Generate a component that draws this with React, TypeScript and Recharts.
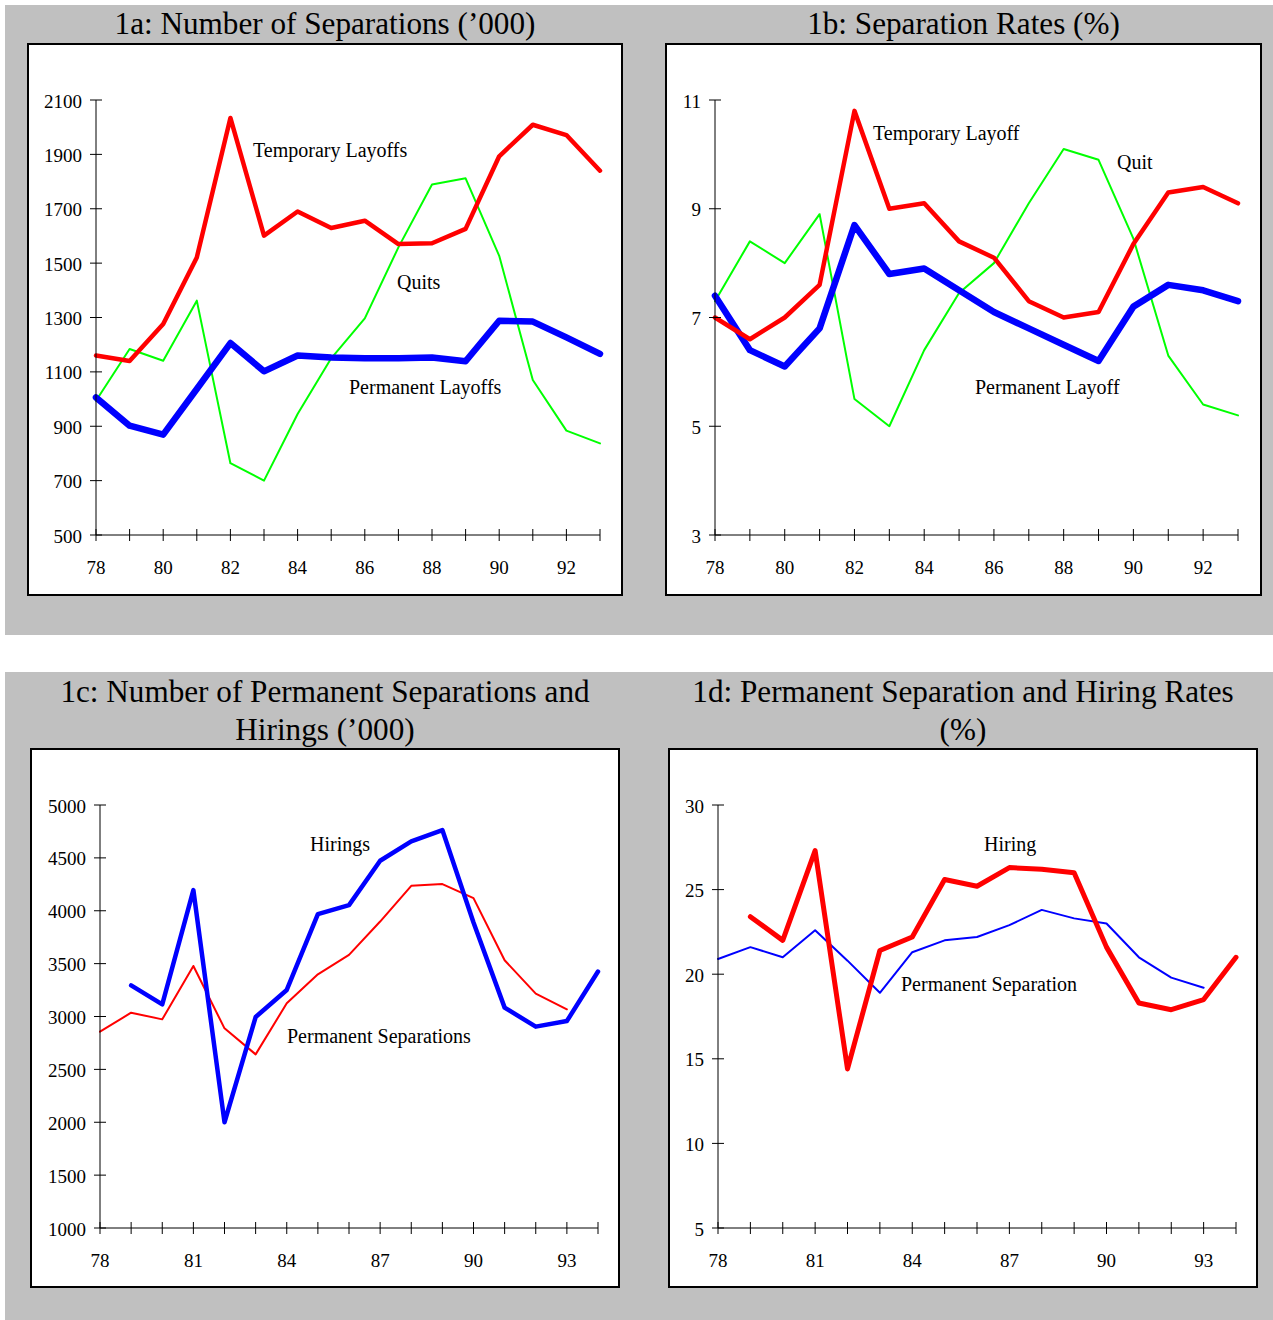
import React from 'react';
import { LineChart, Line, XAxis, YAxis } from 'recharts';

// ---------- data ----------
const yearsAB = [78, 79, 80, 81, 82, 83, 84, 85, 86, 87, 88, 89, 90, 91, 92, 93];
const yearsCD = [78, 79, 80, 81, 82, 83, 84, 85, 86, 87, 88, 89, 90, 91, 92, 93, 94];

// 1a: Number of separations ('000)
const temporaryLayoffs = [1160, 1140, 1276, 1521, 2034, 1601, 1690, 1629, 1656, 1570, 1573, 1626, 1893, 2009, 1971, 1840];
const quits = [994, 1184, 1141, 1362, 764, 700, 945, 1150, 1297, 1558, 1789, 1812, 1527, 1070, 884, 837];
const permanentLayoffs = [1006, 902, 869, 1037, 1206, 1102, 1160, 1153, 1150, 1150, 1153, 1139, 1288, 1285, 1227, 1166];

// 1b: Separation rates (%)
const temporaryLayoffRate = [7.0, 6.6, 7.0, 7.6, 10.8, 9.0, 9.1, 8.4, 8.1, 7.3, 7.0, 7.1, 8.35, 9.3, 9.4, 9.1];
const quitRate = [7.3, 8.4, 8.0, 8.9, 5.5, 5.0, 6.4, 7.45, 8.0, 9.1, 10.1, 9.9, 8.45, 6.3, 5.4, 5.2];
const permanentLayoffRate = [7.4, 6.4, 6.1, 6.8, 8.7, 7.8, 7.9, 7.5, 7.1, 6.8, 6.5, 6.2, 7.2, 7.6, 7.5, 7.3];

// 1c: Number of permanent separations and hirings ('000)
const hirings = [null, 3295, 3115, 4195, 2000, 2995, 3251, 3968, 4053, 4473, 4656, 4763, 3889, 3084, 2904, 2957, 3425];
const permanentSeparations = [2856, 3036, 2973, 3478, 2888, 2642, 3125, 3399, 3583, 3898, 4236, 4252, 4119, 3532, 3216, 3068, null];

// 1d: Permanent separation and hiring rates (%)
const hiringRate = [null, 23.4, 22.0, 27.3, 14.4, 21.4, 22.2, 25.6, 25.2, 26.3, 26.2, 26.0, 21.6, 18.3, 17.9, 18.5, 21.0];
const permanentSeparationRate = [20.9, 21.6, 21.0, 22.6, 20.8, 18.9, 21.3, 22.0, 22.2, 22.9, 23.8, 23.3, 23.0, 21.0, 19.8, 19.2, null];

// tick labels
const yTicksA = [500, 700, 900, 1100, 1300, 1500, 1700, 1900, 2100];
const yTicksB = [3, 5, 7, 9, 11];
const yTicksC = [1000, 1500, 2000, 2500, 3000, 3500, 4000, 4500, 5000];
const yTicksD = [5, 10, 15, 20, 25, 30];
const xLabelsAB = [78, 80, 82, 84, 86, 88, 90, 92];
const xLabelsCD = [78, 81, 84, 87, 90, 93];

// ---------- styling ----------
const SERIF = "'Liberation Serif', 'Times New Roman', Times, serif";
const RED = '#ff0000';
const BLUE = '#0000ff';
const GREEN = '#00ff00';
const GRAY = '#c0c0c0';
const Y_AXIS_W = 40;

const makeRows = (years: number[], series: Record<string, (number | null)[]>) =>
  years.map((yr, i) => {
    const row: Record<string, number | null> = { year: yr };
    Object.keys(series).forEach((k) => {
      row[k] = series[k][i];
    });
    return row;
  });

const XTick = (props: any) => {
  const { x, y, payload, labels } = props;
  const v = payload.value;
  return (
    <g>
      <line x1={x} x2={x} y1={y - 6} y2={y + 6} stroke="#000" strokeWidth={1} />
      {labels.includes(v) ? (
        <text x={x} y={y + 39} textAnchor="middle" fontFamily={SERIF} fontSize={19} fill="#000">
          {v}
        </text>
      ) : null}
    </g>
  );
};

const YTick = (props: any) => {
  const { x, y, payload } = props;
  return (
    <g>
      <line x1={x - 6} x2={x + 6} y1={y} y2={y} stroke="#000" strokeWidth={1} />
      <text x={x - 14} y={y + 7.5} textAnchor="end" fontFamily={SERIF} fontSize={19} fill="#000">
        {payload.value}
      </text>
    </g>
  );
};

type LineSpec = { key: string; color: string; width: number };
type Note = { text: string; x: number; y: number };
type PanelSpec = {
  box: { left: number; top: number; w: number; h: number };
  plot: { left: number; right: number; top: number; bottom: number };
  titleLines: string[];
  titleTop: number;
  titleLineHeight: number;
  data: Record<string, number | null>[];
  xDomain: [number, number];
  xTicks: number[];
  xLabels: number[];
  yDomain: [number, number];
  yTicks: number[];
  lines: LineSpec[];
  notes: Note[];
};

const Panel = ({ spec }: { spec: PanelSpec }) => {
  const { box, plot } = spec;
  const margin = {
    left: plot.left - box.left - Y_AXIS_W,
    right: box.left + box.w - plot.right,
    top: plot.top - box.top,
    bottom: box.top + box.h - plot.bottom - 30,
  };
  return (
    <>
      <div
        style={{
          position: 'absolute',
          left: box.left,
          top: spec.titleTop,
          width: box.w,
          textAlign: 'center',
          fontFamily: SERIF,
          fontSize: 31.2,
          lineHeight: `${spec.titleLineHeight}px`,
          color: '#000',
          whiteSpace: 'nowrap',
        }}
      >
        {spec.titleLines.map((t, i) => (
          <div key={i}>{t}</div>
        ))}
      </div>
      <div
        style={{
          position: 'absolute',
          left: box.left,
          top: box.top,
          width: box.w,
          height: box.h,
          boxSizing: 'border-box',
          border: '2px solid #000',
          background: '#fff',
        }}
      />
      <div style={{ position: 'absolute', left: box.left, top: box.top }}>
        <LineChart width={box.w} height={box.h} data={spec.data} margin={margin}>
          <XAxis
            dataKey="year"
            type="number"
            domain={spec.xDomain}
            ticks={spec.xTicks}
            interval={0}
            tickLine={false}
            tickSize={0}
            tickMargin={0}
            height={30}
            axisLine={{ stroke: '#000', strokeWidth: 1 }}
            tick={(p: any) => <XTick {...p} labels={spec.xLabels} />}
          />
          <YAxis
            type="number"
            domain={spec.yDomain}
            ticks={spec.yTicks}
            interval={0}
            width={Y_AXIS_W}
            tickLine={false}
            tickSize={0}
            tickMargin={0}
            axisLine={{ stroke: '#000', strokeWidth: 1 }}
            tick={(p: any) => <YTick {...p} />}
          />
          {spec.lines.map((l) => (
            <Line
              key={l.key}
              dataKey={l.key}
              type="linear"
              stroke={l.color}
              strokeWidth={l.width}
              strokeLinejoin="round"
              strokeLinecap="round"
              dot={false}
              activeDot={false}
              isAnimationActive={false}
            />
          ))}
        </LineChart>
      </div>
      {spec.notes.map((n, i) => (
        <div
          key={i}
          style={{
            position: 'absolute',
            left: n.x,
            top: n.y - 10,
            fontFamily: SERIF,
            fontSize: 20,
            lineHeight: '20px',
            color: '#000',
            whiteSpace: 'nowrap',
          }}
        >
          {n.text}
        </div>
      ))}
    </>
  );
};

const panels: PanelSpec[] = [
  {
    box: { left: 27, top: 43, w: 596, h: 553 },
    plot: { left: 96, right: 600, top: 100, bottom: 535 },
    titleLines: ['1a: Number of Separations (\u2019000)'],
    titleTop: 8,
    titleLineHeight: 31,
    data: makeRows(yearsAB, { temp: temporaryLayoffs, quit: quits, perm: permanentLayoffs }),
    xDomain: [78, 93],
    xTicks: yearsAB,
    xLabels: xLabelsAB,
    yDomain: [500, 2100],
    yTicks: yTicksA,
    lines: [
      { key: 'quit', color: GREEN, width: 2 },
      { key: 'perm', color: BLUE, width: 6.5 },
      { key: 'temp', color: RED, width: 4.5 },
    ],
    notes: [
      { text: 'Temporary Layoffs', x: 253, y: 150 },
      { text: 'Quits', x: 397, y: 282 },
      { text: 'Permanent Layoffs', x: 349, y: 387 },
    ],
  },
  {
    box: { left: 665, top: 43, w: 597, h: 553 },
    plot: { left: 715, right: 1238, top: 100, bottom: 535 },
    titleLines: ['1b: Separation Rates (%)'],
    titleTop: 8,
    titleLineHeight: 31,
    data: makeRows(yearsAB, { temp: temporaryLayoffRate, quit: quitRate, perm: permanentLayoffRate }),
    xDomain: [78, 93],
    xTicks: yearsAB,
    xLabels: xLabelsAB,
    yDomain: [3, 11],
    yTicks: yTicksB,
    lines: [
      { key: 'quit', color: GREEN, width: 2 },
      { key: 'perm', color: BLUE, width: 6.5 },
      { key: 'temp', color: RED, width: 4.5 },
    ],
    notes: [
      { text: 'Temporary Layoff', x: 873, y: 133 },
      { text: 'Quit', x: 1117, y: 162 },
      { text: 'Permanent Layoff', x: 975, y: 387 },
    ],
  },
  {
    box: { left: 30, top: 748, w: 590, h: 540 },
    plot: { left: 100, right: 598, top: 805, bottom: 1228 },
    titleLines: ['1c: Number of Permanent Separations and', 'Hirings (\u2019000)'],
    titleTop: 673,
    titleLineHeight: 38,
    data: makeRows(yearsCD, { hire: hirings, sep: permanentSeparations }),
    xDomain: [78, 94],
    xTicks: yearsCD,
    xLabels: xLabelsCD,
    yDomain: [1000, 5000],
    yTicks: yTicksC,
    lines: [
      { key: 'sep', color: RED, width: 2 },
      { key: 'hire', color: BLUE, width: 4.5 },
    ],
    notes: [
      { text: 'Hirings', x: 310, y: 844 },
      { text: 'Permanent Separations', x: 287, y: 1036 },
    ],
  },
  {
    box: { left: 668, top: 748, w: 590, h: 540 },
    plot: { left: 718, right: 1236, top: 805, bottom: 1228 },
    titleLines: ['1d: Permanent Separation and Hiring Rates', '(%)'],
    titleTop: 673,
    titleLineHeight: 38,
    data: makeRows(yearsCD, { hire: hiringRate, sep: permanentSeparationRate }),
    xDomain: [78, 94],
    xTicks: yearsCD,
    xLabels: xLabelsCD,
    yDomain: [5, 30],
    yTicks: yTicksD,
    lines: [
      { key: 'sep', color: BLUE, width: 2 },
      { key: 'hire', color: RED, width: 5 },
    ],
    notes: [
      { text: 'Hiring', x: 984, y: 844 },
      { text: 'Permanent Separation', x: 901, y: 984 },
    ],
  },
];

export default function App() {
  return (
    <div style={{ position: 'absolute', left: 0, top: 0, width: 1273, height: 1320, background: '#fff', overflow: 'hidden' }}>
      <div style={{ position: 'absolute', left: 5, top: 5, width: 1268, height: 630, background: GRAY }} />
      <div style={{ position: 'absolute', left: 5, top: 672, width: 1268, height: 648, background: GRAY }} />
      {panels.map((p, i) => (
        <Panel key={i} spec={p} />
      ))}
    </div>
  );
}
